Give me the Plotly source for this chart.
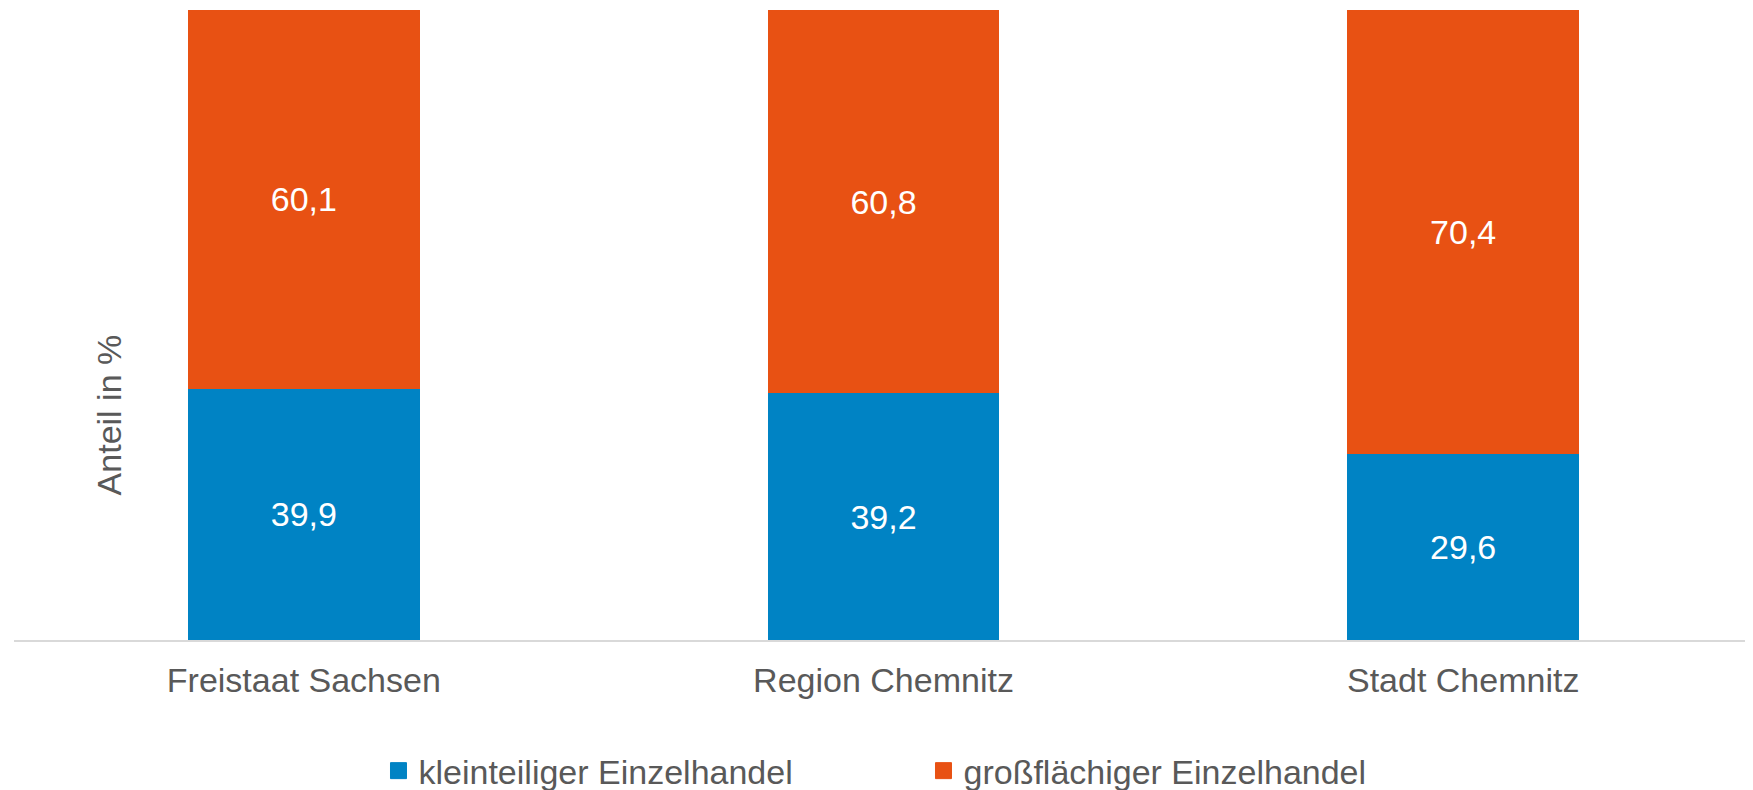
import plotly.graph_objects as go

categories = ["Freistaat Sachsen", "Region Chemnitz", "Stadt Chemnitz"]
klein = [39.9, 39.2, 29.6]
gross = [60.1, 60.8, 70.4]
series_names = ["kleinteiliger Einzelhandel", "großflächiger Einzelhandel"]
y_title = "Anteil in %"

BLUE = "#0083C4"
ORANGE = "#E85113"
GREY = "#595959"
FONT = "Liberation Sans, Arial, sans-serif"
FS = 34

fig = go.Figure()
for name, vals, col in [(series_names[0], klein, BLUE), (series_names[1], gross, ORANGE)]:
    fig.add_trace(go.Bar(
        x=categories, y=vals, name=name, marker=dict(color=col, line=dict(width=0)),
        texttemplate="%{y:.1f}", textposition="inside", insidetextanchor="middle",
        textfont=dict(color="white", size=FS, family=FONT), hoverinfo="skip",
        showlegend=False, legendgroup=name,
    ))
# legend entries with larger square symbols
for name, col in [(series_names[0], BLUE), (series_names[1], ORANGE)]:
    fig.add_trace(go.Scatter(
        x=[None], y=[None], mode="markers", name=name, legendgroup=name,
        marker=dict(symbol="square", size=16, color=col, line=dict(width=1, color=col)),
        showlegend=True,
    ))

fig.update_layout(
    barmode="stack", bargap=0.6, separators=",.",
    width=1745, height=782,
    margin=dict(l=6, r=0, t=2, b=150, autoexpand=False),
    paper_bgcolor="white", plot_bgcolor="white",
    font=dict(family=FONT, size=FS, color=GREY),
    showlegend=True,
    legend=dict(orientation="h", x=0.523, xanchor="center", y=-0.208, yanchor="middle",
                font=dict(size=FS, color=GREY, family=FONT), entrywidth=500,
                traceorder="normal", itemsizing="trace"),
)
fig.update_xaxes(showline=True, linecolor="#D9D9D9", linewidth=2, showgrid=False,
                 ticks="", tickfont=dict(size=FS, color=GREY, family=FONT),
                 ticklabelstandoff=9, fixedrange=True, automargin=False)
fig.update_yaxes(range=[0, 100], showticklabels=False, showgrid=False, zeroline=False,
                 showline=False, ticks="", fixedrange=True, automargin=False)
fig.add_annotation(text=y_title, xref="paper", yref="paper", x=0.0548, y=0.357,
                   textangle=-90, showarrow=False, xanchor="center", yanchor="middle",
                   font=dict(size=FS, color=GREY, family=FONT))

fig.write_html("out.html")
